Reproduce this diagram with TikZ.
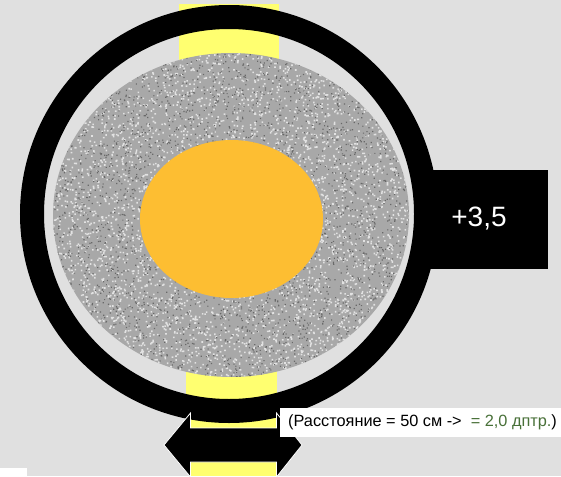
\documentclass[tikz,border=0pt]{standalone}
\usepackage{fontspec}
\setmainfont{Liberation Sans}
\usepackage{tikz}
\definecolor{bgray}{RGB}{224,224,224}
\definecolor{stripeyellow}{RGB}{255,255,112}
\definecolor{lensorange}{RGB}{253,190,50}
\definecolor{grain}{RGB}{168,168,168}
\definecolor{grainlight}{RGB}{226,226,226}
\definecolor{graindark}{RGB}{105,105,105}
\definecolor{dptgreen}{RGB}{72,112,56}
\tikzstyle{stripe} = [fill=stripeyellow]
\tikzstyle{ringline} = [line width=24pt]

\begin{document}
\begin{tikzpicture}[yscale=-1]
			\useasboundingbox (0pt,0pt) rectangle (561pt,476pt);
			\fill[bgray] (0pt,0pt) rectangle (561pt,476pt);
			\fill[white] (0pt,468pt) rectangle (27pt,476pt);
			% yellow stripes behind the disc
			\fill[stripe] (179pt,4pt) rectangle (279pt,70pt);
			\fill[stripe] (186pt,360pt) rectangle (277pt,430pt);
			\fill[stripe] (191pt,455pt) rectangle (276pt,476pt);
			% grainy disc
			\begin{scope}
				\clip (231pt,215pt) ellipse [x radius=178pt, y radius=162pt];
				\fill[grain] (53pt,53pt) rectangle (410pt,377pt);
				\pgfmathsetseed{42}
				\fill[grainlight] \foreach \k in {1,...,5000}{({53pt+357pt*rnd},{53pt+324pt*rnd}) rectangle +(1.6pt,1.6pt)};
				\fill[graindark] \foreach \k in {1,...,3200}{({53pt+357pt*rnd},{53pt+324pt*rnd}) rectangle +(1.2pt,1.2pt)};
			\end{scope}
			\fill[lensorange] (231.5pt,219pt) ellipse [x radius=91.5pt, y radius=79pt];
			% frame ring and power box
			\draw[ringline] (229pt,214pt) circle [radius=197pt];
			\fill[black] (420pt,170pt) rectangle (548pt,269pt);
			\node[text=white, font=\fontsize{28}{32}\selectfont] (power) at (479pt,219pt) {+3,5};
			% double arrow
			\draw[white, fill=black, line width=0.8pt] (164pt,445pt) -- (190.5pt,413pt) -- (190.5pt,428pt) -- (276.5pt,428pt) -- (276.5pt,413pt) -- (302pt,445pt) -- (276.5pt,477pt) -- (276.5pt,462pt) -- (190.5pt,462pt) -- (190.5pt,477pt) -- cycle;
			% distance label
			\fill[white] (280pt,408pt) rectangle (561pt,437pt);
			\node[anchor=west, inner sep=0pt, font=\fontsize{16.3}{19}\selectfont] (distance) at (288pt,422.5pt) {(Расстояние = 50 см ->\ \ \textcolor{dptgreen}{= 2,0 дптр.})};
		\end{tikzpicture}
\end{document}
